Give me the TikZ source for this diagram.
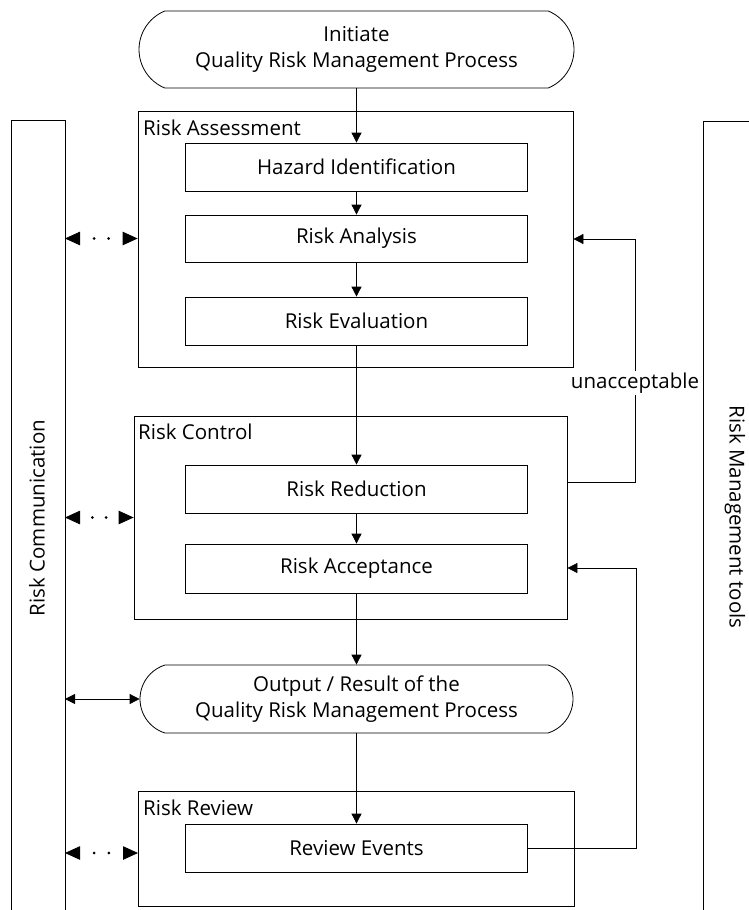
\documentclass[tikz,border=0pt]{standalone}
\usepackage{fontspec}
\setmainfont{Open Sans}
\usetikzlibrary{arrows.meta,shapes.misc,decorations.markings,calc}
\begin{document}
\begin{tikzpicture}[x=1pt,y=-1pt,
  every node/.style={font=\fontsize{20.5}{26.5}\selectfont, inner sep=0pt},
  lw/.style={line width=0.8pt},
  grp/.style={draw, lw, rectangle},
  stepbox/.style={draw, lw, rectangle, minimum width=342pt, minimum height=48pt, fill=white},
  term/.style={draw, lw, rounded rectangle, align=center, fill=white},
  arr/.style={lw, -{Triangle[length=10pt,width=10pt]}},
  darr/.style={lw, {Triangle[length=10pt,width=10pt]}-{Triangle[length=10pt,width=10pt]}},
  dotarr/.style={lw, draw=white,
    {Triangle[length=15pt,width=13.5pt,color=black]}-{Triangle[length=15pt,width=13.5pt,color=black]},
    postaction={decorate, decoration={markings,
      mark=at position 0.4 with {\fill[black] (0,0) circle (1.5pt);},
      mark=at position 0.6 with {\fill[black] (0,0) circle (1.5pt);}}}},
  grplbl/.style={anchor=west},
]
\useasboundingbox (0,0) rectangle (748,910);

% side bars
\draw[lw] (11,911) -- (11,120) -- (65,120) -- (65,911);
\coordinate (commtop) at (65,120);
\node[rotate=90] (commlbl) at (37,518) {Risk Communication};
\draw[lw] (749,121) -- (703,121) -- (703,911);
\node[rotate=-90] (toolslbl) at (735,517) {Risk Management tools};

% top terminator
\node[term, rounded rectangle arc length=135, minimum width=435pt, minimum height=77pt] (init) at (356.5,49.5) {Initiate\\Quality Risk Management Process};

% group boxes
\node[grp, minimum width=435pt, minimum height=256pt] (assess) at (355.5,239) {};
\node[grplbl] (assesslbl) at (143,128) {Risk Assessment};
\node[grp, minimum width=433pt, minimum height=203pt] (control) at (350.5,517.5) {};
\node[grplbl] (controllbl) at (138,432) {Risk Control};
\node[grp, minimum width=436pt, minimum height=115pt] (review) at (356,848.5) {};
\node[grplbl] (reviewlbl) at (143,808) {Risk Review};

% step boxes
\node[stepbox] (hazard) at (356.5,167) {Hazard Identification};
\node[stepbox, minimum height=47pt] (analysis) at (356.5,238.5) {Risk Analysis};
\node[stepbox] (evaluation) at (356.5,321) {Risk Evaluation};
\node[stepbox] (reduction) at (356.5,489) {Risk Reduction};
\node[stepbox, minimum height=49pt] (acceptance) at (356.5,568.5) {Risk Acceptance};
\node[stepbox] (events) at (356.5,848) {Review Events};

% output terminator
\node[term, rounded rectangle arc length=145, minimum width=433pt, minimum height=68pt] (output) at (356.5,699) {Output / Result of the\\Quality Risk Management Process};

% main flow
\draw[arr] (init.south) -- (hazard.north);
\draw[arr] (hazard.south) -- (analysis.north);
\draw[arr] (analysis.south) -- (evaluation.north);
\draw[arr] (evaluation.south) -- (reduction.north);
\draw[arr] (reduction.south) -- (acceptance.north);
\draw[arr] (acceptance.south) -- (output.north);
\draw[arr] (output.south) -- (events.north);

% communication links
\draw[dotarr] (commtop |- analysis.west) -- (assess.west |- analysis.west);
\draw[dotarr] (commtop |- control.west) -- (control.west);
\coordinate (revlink) at (138,853);
\draw[dotarr] (commtop |- revlink) -- (revlink);
\draw[darr] (commtop |- output.west) -- (output.west);

% feedback loops
\coordinate (fbA) at (635,482);
\coordinate (fbB) at (635,239);
\draw[arr] (control.east |- fbA) -- (fbA) -- (fbB) -- (assess.east |- fbB);
\node[fill=white, inner sep=2pt] (unacc) at (635,383) {unacceptable};
\coordinate (fbC) at (636,848);
\coordinate (fbD) at (636,568);
\draw[arr] (events.east |- fbC) -- (fbC) -- (fbD) -- (control.east |- fbD);
\end{tikzpicture}
\end{document}
